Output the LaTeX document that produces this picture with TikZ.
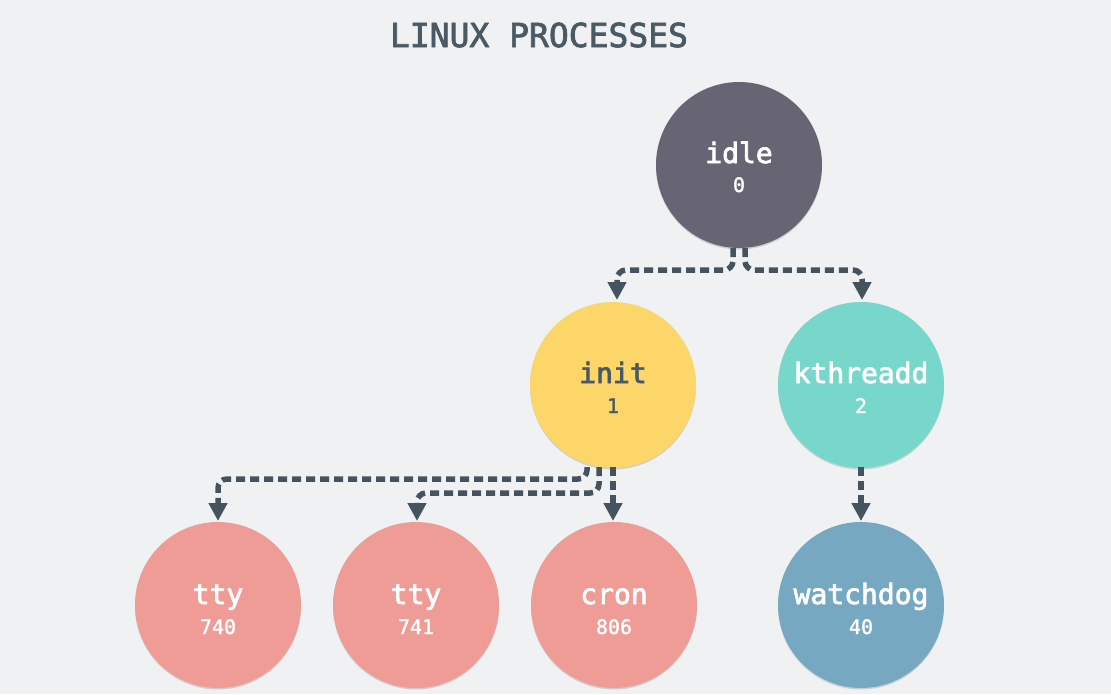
\documentclass[tikz,border=0pt]{standalone}
\usepackage{fontspec}
\setmonofont{DejaVu Sans Mono}
\newfontfamily\labfont[FakeBold=2.5]{DejaVu Sans Mono}
\newfontfamily\numfont[FakeBold=1.6]{DejaVu Sans Mono}
\newfontfamily\titlefont[FakeBold=2.2]{DejaVu Sans Mono}
\usetikzlibrary{arrows.meta,shadows}
\definecolor{bgc}{HTML}{EFF1F3}
\definecolor{linec}{HTML}{45535E}
\definecolor{titlec}{HTML}{4A5A64}
\definecolor{idlec}{HTML}{676573}
\definecolor{initc}{HTML}{FCD669}
\definecolor{kthc}{HTML}{77D7CB}
\definecolor{ttyc}{HTML}{F09C96}
\definecolor{wdc}{HTML}{77A8C1}
\tikzset{
  proc/.style={circle, minimum size=166pt, inner sep=0pt,
    drop shadow={shadow xshift=0pt, shadow yshift=-1.5pt, opacity=0.25, fill=black!60}},
  pname/.style={text=white, font=\labfont\fontsize{28}{30}\selectfont, anchor=base},
  pid/.style={text=white, font=\numfont\fontsize{20}{22}\selectfont, anchor=base},
  link/.style={draw=linec, line width=5.5pt, dash pattern=on 9pt off 5pt,
    rounded corners=9pt, -{Triangle[length=18pt,width=18pt]}}
}
\begin{document}
\begin{tikzpicture}[x=1pt,y=-1pt]
\fill[bgc] (0,0) rectangle (1111,694);
\useasboundingbox (0,0) rectangle (1111,694);
\node[text=titlec, font=\titlefont\fontsize{33}{35}\selectfont] (title) at (539,35) {LINUX PROCESSES};

\node[proc, fill=idlec] (idle) at (739,165) {};
\node[proc, fill=initc] (init) at (613,385) {};
\node[proc, fill=kthc] (kth) at (861,385) {};
\node[proc, fill=ttyc] (tty1) at (218,605) {};
\node[proc, fill=ttyc] (tty2) at (416,605) {};
\node[proc, fill=ttyc] (cron) at (614,605) {};
\node[proc, fill=wdc] (wd) at (861,605) {};

\node[pname] (idlet) at (739,163) {idle};
\node[pid] (idlen) at (739,192) {0};
\node[pname, text=titlec] (initt) at (613,383) {init};
\node[pid, text=titlec] (initn) at (613,413) {1};
\node[pname] (ktht) at (861,383) {kthreadd};
\node[pid] (kthn) at (861,413) {2};
\node[pname] (tty1t) at (218,604) {tty};
\node[pid] (tty1n) at (218,634) {740};
\node[pname] (tty2t) at (416,604) {tty};
\node[pid] (tty2n) at (416,634) {741};
\node[pname] (cront) at (614,604) {cron};
\node[pid] (cronn) at (614,634) {806};
\node[pname] (wdt) at (861,604) {watchdog};
\node[pid] (wdn) at (861,634) {40};

\coordinate (a1) at (733,248);
\coordinate (a2) at (745,248);
\draw[link] (a1) -- (733,270) -- (617,270) -- (617,300);
\draw[link] (a2) -- (745,270) -- (862,270) -- (862,300);

\coordinate (b1) at (587,467);
\coordinate (b2) at (599,467);
\coordinate (b3) at (613,467);
\draw[link] (b1) -- (587,479) -- (218,479) -- (218,521);
\draw[link] (b2) -- (599,493) -- (417,493) -- (417,521);
\draw[link] (b3) -- (613,521);

\coordinate (c1) at (861,467);
\draw[link] (c1) -- (861,521);
\end{tikzpicture}
\end{document}
